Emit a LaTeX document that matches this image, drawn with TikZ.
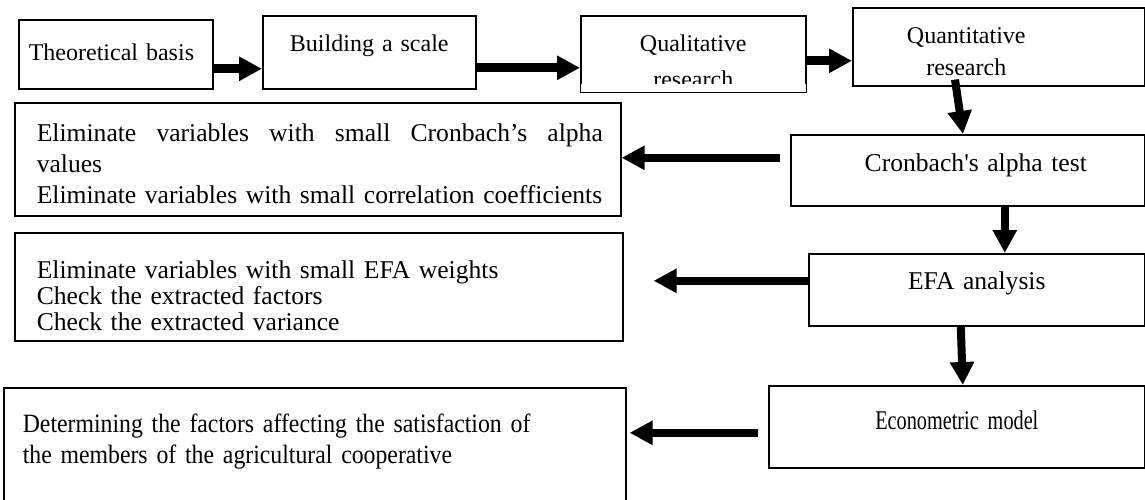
\documentclass[tikz,border=0pt]{standalone}
\usepackage{fontspec}
\setmainfont{Liberation Serif}
\newfontfamily\narrowserif[FakeStretch=0.9]{Liberation Serif}
\newfontfamily\tightserif[FakeStretch=0.75]{Liberation Serif}
\usetikzlibrary{arrows.meta}

\begin{document}
\begin{tikzpicture}[
        x=0.5pt, y=-0.5pt,
        box/.style={rectangle, draw, line width=0.8pt, anchor=north west, inner ysep=0pt, inner xsep=0pt,
            font=\fontsize{12}{16.5}\selectfont},
        notebox/.style={box, align=left, font=\fontsize{12.8}{15}\selectfont},
        flow/.style={line width=4pt, -{Triangle[length=11.5pt, width=11.5pt]}},
        topflow/.style={flow, line width=4.5pt}
    ]
    \useasboundingbox (0,0) rectangle (1145,499);

    % Upper row
    \node[box, inner xsep=5pt, text width=87pt, text height=20.5pt, text depth=14pt, align=left] (theo) at (18,19) {Theoretical basis};
    \node[box, text width=106.5pt, text height=18pt, text depth=18.5pt, align=center] (scale) at (262,15) {Building a scale};
    \node[box, text width=112.5pt, text height=18pt, text depth=20pt, align=center, font=\fontsize{12}{18}\selectfont] (qual) at (580,15) {Qualitative\\research};
    \node[box, text width=146pt, text height=18pt, text depth=21pt, align=left, font=\fontsize{12}{16}\selectfont] (quant) at (852,7) {\makebox[113.5pt]{Quantitative}\\\makebox[113.5pt]{research}};
    % text of qual is cut at the bottom
    \fill[white] ([shift={(0.4pt,0.4pt)}]qual.south west) rectangle ([shift={(-0.4pt,4.5pt)}]qual.south east);

    % Right column
    \node[box, text width=177pt, text height=18.5pt, text depth=17pt, align=center, font=\fontsize{12.8}{15}\selectfont] (alpha) at (790,134) {\hspace*{8pt}Cronbach\textquotesingle s alpha test};
    \node[box, text width=168pt, text height=18pt, text depth=18pt, align=center, font=\fontsize{12.8}{15}\selectfont] (efa) at (808,253) {EFA analysis};
    \node[box, text width=188pt, text height=22pt, text depth=19pt, align=center, font=\tightserif\fontsize{13.5}{15}\selectfont] (econ) at (768,385) {Econometric model};

    % Left column
    \node[notebox, inner xsep=11pt, text width=281pt, text height=19.5pt, text depth=37pt, font=\fontsize{12.8}{15.5}\selectfont] (elimA) at (14,102)
        {\hbox to 283pt{Eliminate\hfill variables\hfill with\hfill small\hfill Cronbach’s\hfill alpha}\\values\\\mbox{Eliminate variables with small correlation coefficients}};
    \node[notebox, inner xsep=11pt, text width=282pt, text height=23pt, text depth=31pt, font=\fontsize{12.8}{13}\selectfont] (elimB) at (14,232)
        {Eliminate variables with small EFA weights\\Check the extracted factors\\Check the extracted variance};
    \node[notebox, inner xsep=9.5pt, text width=292pt, text height=22.5pt, text depth=34.5pt, font=\narrowserif\fontsize{13.2}{15.5}\selectfont] (elimC) at (3,387)
        {Determining the factors affecting the satisfaction of\\the members of the agricultural cooperative};

    % Arrows
    \draw[topflow] ([yshift=-7.25pt]theo.east) -- ([yshift=-8.25pt]scale.west);
    \draw[topflow] ([yshift=-7.75pt]scale.east) -- ([yshift=-7pt]qual.west);
    \draw[topflow] ([yshift=-3.5pt]qual.east) -- ([yshift=-7pt]quant.west);
    \draw[flow] ([shift={(51.5pt,3.5pt)}]quant.south west) -- ([xshift=86.5pt]alpha.north west);
    \draw[flow] ([xshift=-5pt, yshift=6.25pt]alpha.west) -- ([yshift=0.75pt]elimA.east);
    \draw[flow] ([xshift=18.5pt]alpha.south) -- ([xshift=14pt]efa.north);
    \draw[flow] ([yshift=4.5pt]efa.west) -- ([xshift=15pt, yshift=3pt]elimB.east);
    \draw[flow] ([xshift=-8pt]efa.south) -- ([xshift=3pt]econ.north);
    \draw[flow] ([xshift=-5pt, yshift=-3pt]econ.west) -- ([xshift=1.5pt, yshift=6pt]elimC.east);

\end{tikzpicture}
\end{document}
